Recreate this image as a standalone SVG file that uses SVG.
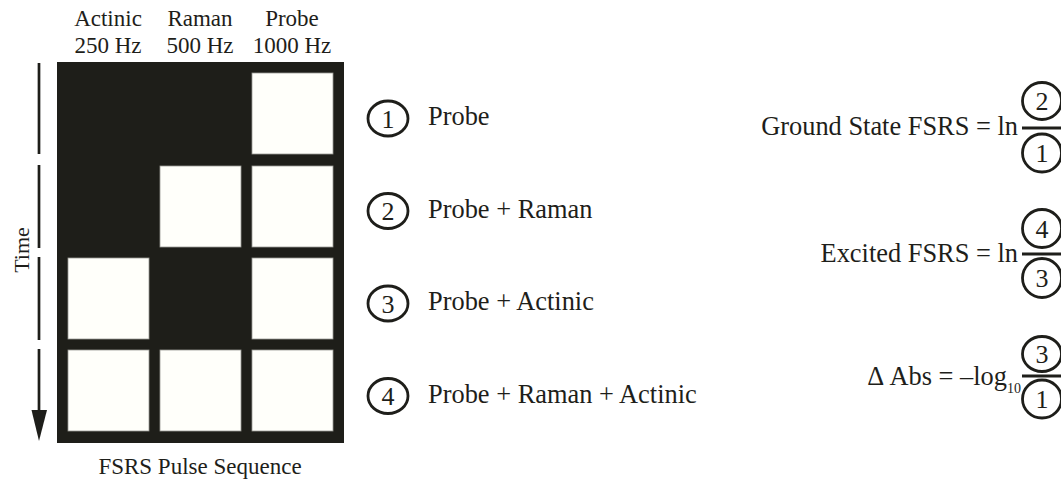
<svg xmlns="http://www.w3.org/2000/svg" width="1061" height="480" viewBox="0 0 1061 480">
<style>
text{font-family:"Liberation Serif","Times New Roman",serif;fill:#1e1e1a}
.hdr{font-size:23px;text-anchor:middle}
.lbl{font-size:26.4px}
.num{font-size:26px;text-anchor:middle}
.eq{font-size:26.4px;text-anchor:end}
.cell{fill:#fffffa;stroke:#9a9a94;stroke-width:0.8}
.ring{fill:none;stroke:#1e1e1a;stroke-width:2.8}
.bar{stroke:#1e1e1a;stroke-width:3}
</style>
<rect width="1061" height="480" fill="#ffffff"/>
<g id="headers">
<text class="hdr" x="108" y="26">Actinic</text>
<text class="hdr" x="108" y="53">250 Hz</text>
<text class="hdr" x="200" y="26">Raman</text>
<text class="hdr" x="200" y="53">500 Hz</text>
<text class="hdr" x="292" y="26">Probe</text>
<text class="hdr" x="292" y="53">1000 Hz</text>
</g>
<g id="pulse-grid">
<rect x="57" y="62" width="287" height="381" fill="#1e1e19"/>
<rect class="cell" x="252" y="73" width="81" height="81"/>
<rect class="cell" x="160" y="166" width="81" height="81"/>
<rect class="cell" x="252" y="166" width="81" height="81"/>
<rect class="cell" x="68" y="258" width="81" height="81"/>
<rect class="cell" x="252" y="258" width="81" height="81"/>
<rect class="cell" x="68" y="350" width="81" height="81"/>
<rect class="cell" x="160" y="350" width="81" height="81"/>
<rect class="cell" x="252" y="350" width="81" height="81"/>
<text class="hdr" x="200" y="474">FSRS Pulse Sequence</text>
</g>
<g id="time-axis">
<path d="M39 63V154M39 165V248M39 257V340M39 349V412" stroke="#1e1e1a" stroke-width="2.7" fill="none"/>
<polygon points="31.5,410 47,410 39,441" fill="#1e1e1a"/>
<text x="29" y="250" transform="rotate(-90 29 250)" style="font-size:22px;text-anchor:middle">Time</text>
</g>
<g id="legend-1">
<ellipse class="ring" cx="388" cy="118.5" rx="20" ry="17.5"/>
<text class="num" x="388" y="127.5">1</text>
<text class="lbl" x="428" y="125">Probe</text>
</g>
<g id="legend-2">
<ellipse class="ring" cx="388" cy="211" rx="20" ry="17.5"/>
<text class="num" x="388" y="220">2</text>
<text class="lbl" x="428" y="217.5">Probe + Raman</text>
</g>
<g id="legend-3">
<ellipse class="ring" cx="388" cy="303.5" rx="20" ry="17.5"/>
<text class="num" x="388" y="312.5">3</text>
<text class="lbl" x="428" y="310">Probe + Actinic</text>
</g>
<g id="legend-4">
<ellipse class="ring" cx="388" cy="396" rx="20" ry="17.5"/>
<text class="num" x="388" y="405">4</text>
<text class="lbl" x="428" y="402.5">Probe + Raman + Actinic</text>
</g>
<g id="eq-ground">
<text class="eq" x="1018" y="135">Ground State FSRS = ln</text>
<line class="bar" x1="1022" y1="128" x2="1062" y2="128"/>
<ellipse class="ring" cx="1042" cy="101" rx="19.5" ry="18.5"/>
<text class="num" x="1042" y="110">2</text>
<ellipse class="ring" cx="1042" cy="153" rx="19.5" ry="19"/>
<text class="num" x="1042" y="162">1</text>
</g>
<g id="eq-excited">
<text class="eq" x="1018" y="262">Excited FSRS = ln</text>
<line class="bar" x1="1022" y1="254" x2="1062" y2="254"/>
<ellipse class="ring" cx="1042" cy="228.5" rx="19.5" ry="19"/>
<text class="num" x="1042" y="237.5">4</text>
<ellipse class="ring" cx="1042" cy="278" rx="19.5" ry="19.5"/>
<text class="num" x="1042" y="287">3</text>
</g>
<g id="eq-abs">
<text class="eq" x="1021" y="385">Δ Abs = –log<tspan style="font-size:14px" dy="8">10</tspan></text>
<line class="bar" x1="1022" y1="376" x2="1062" y2="376"/>
<ellipse class="ring" cx="1042" cy="354" rx="19.5" ry="17.5"/>
<text class="num" x="1042" y="363">3</text>
<ellipse class="ring" cx="1042" cy="399" rx="19.5" ry="19"/>
<text class="num" x="1042" y="408">1</text>
</g>
</svg>
